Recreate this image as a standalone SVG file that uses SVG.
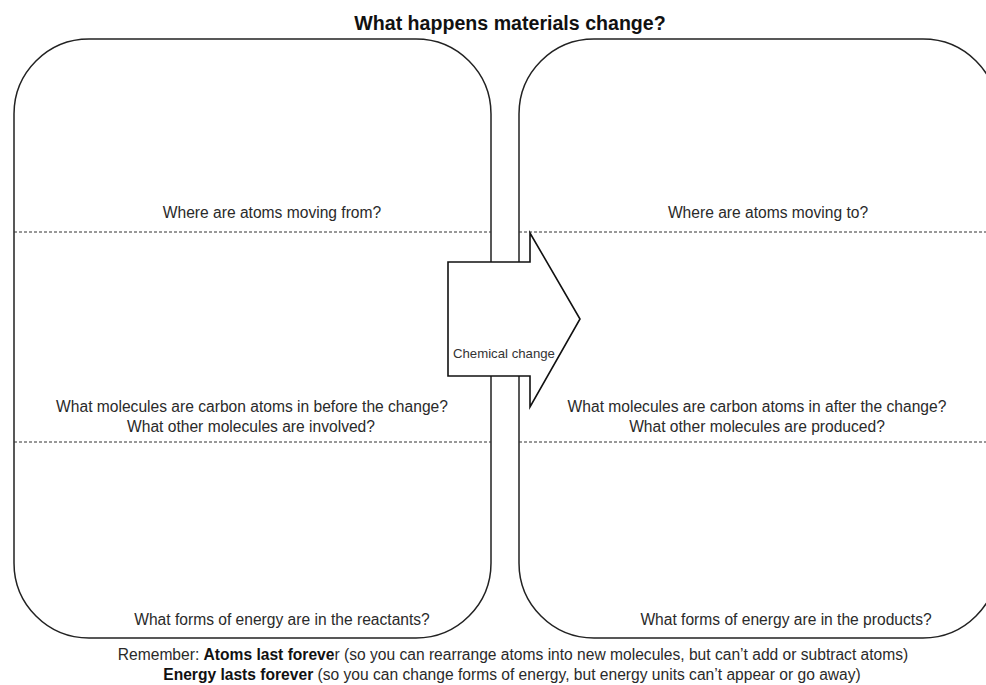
<svg xmlns="http://www.w3.org/2000/svg" width="986" height="685" viewBox="0 0 986 685">
<style>
  .box { fill: #fff; stroke: #222; stroke-width: 1.5; }
  .dash { stroke: #333; stroke-width: 1; stroke-dasharray: 3 2; fill: none; }
  .t { font-family: "Liberation Sans", Arial, sans-serif; font-size: 15.6px; fill: #2a2a2a; text-anchor: middle; }
  .title { font-family: "Liberation Sans", Arial, sans-serif; font-size: 19.6px; font-weight: bold; fill: #111; text-anchor: middle; }
  .b { font-weight: bold; fill: #111; }
  .arrow { fill: #fff; stroke: #111; stroke-width: 1.6; stroke-linejoin: miter; }
  .small { font-family: "Liberation Sans", Arial, sans-serif; font-size: 13.2px; fill: #333; }
</style>
<rect width="986" height="685" fill="#fff"/>
<text class="title" x="510" y="30">What happens materials change?</text>
<g id="reactants">
  <path class="box" d="M89,39 H416 A75,75 0 0 1 491,114 V563 A75,75 0 0 1 416,638 H89 A75,75 0 0 1 14,563 V114 A75,75 0 0 1 89,39 Z"/>
  <line class="dash" x1="14" y1="232" x2="491" y2="232"/>
  <line class="dash" x1="14" y1="442" x2="491" y2="442"/>
  <text class="t" x="272" y="218">Where are atoms moving from?</text>
  <text class="t" x="252" y="412">What molecules are carbon atoms in before the change?</text>
  <text class="t" x="251" y="432">What other molecules are involved?</text>
  <text class="t" x="282" y="625">What forms of energy are in the reactants?</text>
</g>
<g id="products">
  <path class="box" d="M594,39 H923 A75,75 0 0 1 998,114 V563 A75,75 0 0 1 923,638 H594 A75,75 0 0 1 519,563 V114 A75,75 0 0 1 594,39 Z"/>
  <line class="dash" x1="519" y1="232" x2="986" y2="232"/>
  <line class="dash" x1="519" y1="442" x2="986" y2="442"/>
  <text class="t" x="768" y="218">Where are atoms moving to?</text>
  <text class="t" x="757" y="412">What molecules are carbon atoms in after the change?</text>
  <text class="t" x="757" y="432">What other molecules are produced?</text>
  <text class="t" x="786" y="625">What forms of energy are in the products?</text>
</g>
<g id="connectors">
  <g id="chemical-change">
    <polygon class="arrow" points="448,262 530,262 530,233 580,319 530,407 530,376 448,376"/>
    <text class="small" x="453" y="358">Chemical change</text>
  </g>
</g>
<g id="footer">
  <text class="t" x="513" y="660">Remember: <tspan class="b">Atoms last foreve</tspan>r (so you can rearrange atoms into new molecules, but can’t add or subtract atoms)</text>
  <text class="t" x="512" y="680"><tspan class="b">Energy lasts forever</tspan> (so you can change forms of energy, but energy units can’t appear or go away)</text>
</g>
</svg>
